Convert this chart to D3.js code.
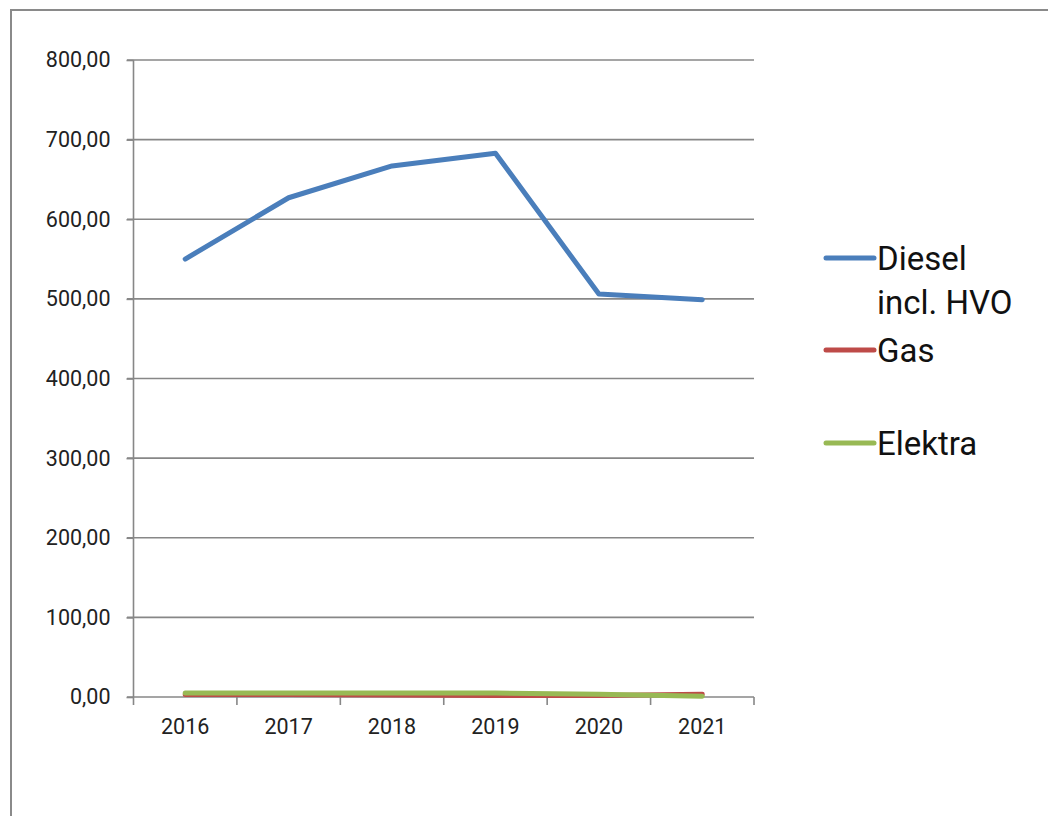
<!DOCTYPE html>
<html><head><meta charset="utf-8">
<script src="https://cdn.jsdelivr.net/npm/d3@7/dist/d3.min.js"></script>
<style>html,body{margin:0;padding:0;background:#fff;}svg{display:block;}</style>
</head><body>
<script>
const years = ["2016","2017","2018","2019","2020","2021"];
const diesel = [550, 627, 667, 683, 506, 499];
const gas = [3, 3, 2.5, 2, 2, 3.5];
const elektra = [5, 5, 5, 5, 3.5, 1];
const yTicks = [0,100,200,300,400,500,600,700,800];
const seriesNames = ["Diesel incl. HVO","Gas","Elektra"];
const seriesColors = ["#4a7ebb","#be4b48","#98b954"];

const W = 1048, H = 816;
const svg = d3.select("body").append("svg").attr("width", W).attr("height", H);
const font = "Roboto, 'Open Sans', sans-serif";

// outer frame
svg.append("rect").attr("x", 11).attr("y", 10).attr("width", W + 20).attr("height", H + 20)
  .attr("fill", "none").attr("stroke", "#8a8a8a").attr("stroke-width", 2);

const x = d3.scaleBand().domain(years).range([133.5, 754]);
const y = d3.scaleLinear().domain([0, 800]).range([697, 60]);

// gridlines
svg.append("g").selectAll("line").data(yTicks).join("line")
  .attr("x1", 127).attr("x2", 754)
  .attr("y1", d => y(d)).attr("y2", d => y(d))
  .attr("stroke", "#878787").attr("stroke-width", 1.6);

// y axis
const yAxis = d3.axisLeft(y).tickValues(yTicks).tickSize(7).tickPadding(16)
  .tickFormat(d => d3.format(".2f")(d).replace(".", ","));
const gy = svg.append("g").attr("transform", "translate(133.5,0)").call(yAxis);
gy.select(".domain").attr("stroke", "#878787").attr("stroke-width", 1.6).attr("d", `M0,${y(800)}V${y(0)}`);
gy.selectAll(".tick line").attr("stroke", "#878787").attr("stroke-width", 1.6);
gy.selectAll("text").attr("font-family", font).attr("font-size", 21.5).attr("fill", "#222");

// x axis
const gx = svg.append("g").attr("transform", `translate(0,${y(0)})`);
const bounds = years.map(d => x(d)).concat([x.range()[1]]);
gx.selectAll("line.tk").data(bounds).join("line").attr("class", "tk")
  .attr("x1", d => d).attr("x2", d => d).attr("y1", 0).attr("y2", 8)
  .attr("stroke", "#878787").attr("stroke-width", 1.6);
gx.selectAll("text").data(years).join("text")
  .attr("x", d => x(d) + x.bandwidth() / 2).attr("y", 37)
  .attr("text-anchor", "middle").attr("font-family", font).attr("font-size", 21.5).attr("fill", "#222")
  .text(d => d);

// lines
const line = d3.line().x((d, i) => x(years[i]) + x.bandwidth() / 2).y(d => y(d));
const allSeries = [diesel, gas, elektra];
[1, 2, 0].forEach(k => {
  svg.append("path").datum(allSeries[k]).attr("d", line)
    .attr("fill", "none").attr("stroke", seriesColors[k]).attr("stroke-width", 5)
    .attr("stroke-linejoin", "round").attr("stroke-linecap", "round");
});

// legend
const legY = [258, 350, 443];
const leg = svg.append("g");
seriesNames.forEach((name, i) => {
  leg.append("line").attr("x1", 826).attr("x2", 874).attr("y1", legY[i]).attr("y2", legY[i])
    .attr("stroke", seriesColors[i]).attr("stroke-width", 5).attr("stroke-linecap", "round");
  const t = leg.append("text").attr("x", 877).attr("y", legY[i] + 12)
    .attr("font-family", font).attr("font-size", 33).attr("fill", "#111");
  if (i === 0) {
    t.append("tspan").attr("x", 877).text("Diesel");
    t.append("tspan").attr("x", 877).attr("dy", 44).text("incl. HVO");
  } else {
    t.text(name);
  }
});
</script>
</body></html>
